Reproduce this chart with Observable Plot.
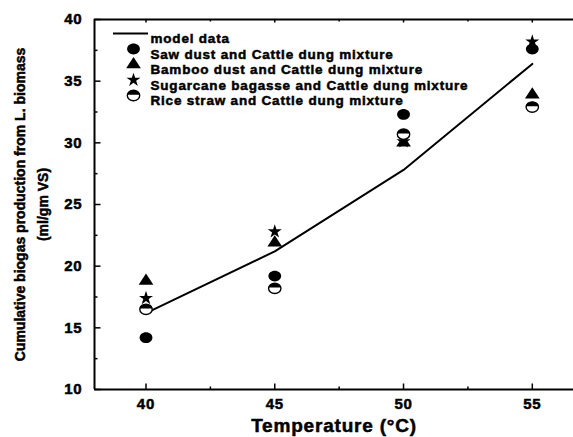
<!DOCTYPE html>
<html>
<head>
<meta charset="utf-8">
<script src="https://cdn.jsdelivr.net/npm/d3@7"></script>
<script src="https://cdn.jsdelivr.net/npm/@observablehq/plot@0.6"></script>
<style>
  body { margin: 0; background: #fff; }
  svg { display: block; }
  /* heavy, slightly wide lettering */
  #chart svg text { letter-spacing: 0.8px; stroke: black; stroke-width: 0.5px; paint-order: stroke; }
</style>
</head>
<body>
<div id="chart"></div>
<script>
// Cumulative biogas production (ml/gm VS) by digestion temperature
const temperatures = [40, 45, 50, 55];
const modelData = [16.2, 21.2, 27.8, 36.4];
const sawDust = [14.2, 19.2, 32.3, 37.6];
const bambooDust = [18.8, 21.9, 30.0, 33.9];
const sugarcaneBagasse = [17.4, 22.8, 30.1, 38.2];
const riceStraw = [16.5, 18.2, 30.7, 32.9];

const seriesLabels = [
  "model data",
  "Saw dust and Cattle dung mixture",
  "Bamboo dust and Cattle dung mixture",
  "Sugarcane bagasse and Cattle dung mixture",
  "Rice straw and Cattle dung mixture"
];

const xMajorTicks = [40, 45, 50, 55];
const xMinorTicks = [42.5, 47.5, 52.5];
const yMajorTicks = [10, 15, 20, 25, 30, 35, 40];
const yMinorTicks = [12.5, 17.5, 22.5, 27.5, 32.5, 37.5];

const yTitle = "Cumulative biogas production from L. biomass";
const yUnits = "(ml/gm VS)";
const xTitle = "Temperature (°C)";

const pts = (ys) => temperatures.map((t, i) => ({t, v: ys[i]}));

// --- marker shapes ---
const K = 0.5523;
function ellipse(ctx, rx, ry) {
  ctx.moveTo(rx, 0);
  ctx.bezierCurveTo(rx, K * ry, K * rx, ry, 0, ry);
  ctx.bezierCurveTo(-K * rx, ry, -rx, K * ry, -rx, 0);
  ctx.bezierCurveTo(-rx, -K * ry, -K * rx, -ry, 0, -ry);
  ctx.bezierCurveTo(K * rx, -ry, rx, -K * ry, rx, 0);
  ctx.closePath();
}
const rOf = (size) => Math.sqrt(size / Math.PI);
const oval = {draw(ctx, size) { const r = rOf(size); ellipse(ctx, r, r * 0.84); }};
const upperHalf = {draw(ctx, size) {
  const r = rOf(size), ry = r * 0.84, g = 0.8;
  ctx.moveTo(r, -g);
  ctx.bezierCurveTo(r, -K * ry, K * r, -ry, 0, -ry);
  ctx.bezierCurveTo(-K * r, -ry, -r, -K * ry, -r, -g);
  ctx.closePath();
}};
const wideTriangle = {draw(ctx, size) {
  const r = rOf(size), h = r * 1.75, w = r * 1.15;
  ctx.moveTo(0, -2 * h / 3);
  ctx.lineTo(w, h / 3);
  ctx.lineTo(-w, h / 3);
  ctx.closePath();
}};
const legendLine = {draw(ctx, size) { const r = rOf(size); ctx.moveTo(-r, 0); ctx.lineTo(r, 0); }};
const tickUp = {draw(ctx, size) { const r = rOf(size); ctx.moveTo(0, 0); ctx.lineTo(0, -r); }};
const tickDown = {draw(ctx, size) { const r = rOf(size); ctx.moveTo(0, 0); ctx.lineTo(0, r); }};
const tickRight = {draw(ctx, size) { const r = rOf(size); ctx.moveTo(0, 0); ctx.lineTo(r, 0); }};

const seriesMarks = [
  (d, o) => Plot.dot(d, {...o, symbol: oval, r: 6.4, fill: "black"}),
  (d, o) => Plot.dot(d, {...o, symbol: wideTriangle, r: 6.4, fill: "black"}),
  (d, o) => Plot.dot(d, {...o, symbol: "star", r: 4.4, fill: "black"}),
  (d, o) => [
    Plot.dot(d, {...o, symbol: oval, r: 6.2, fill: "white", stroke: "black", strokeWidth: 1.4}),
    Plot.dot(d, {...o, symbol: upperHalf, r: 6.2, fill: "black"})
  ]
];

const pointOpts = {x: "t", y: "v"};

// legend rows inside the frame, top-left
const legendRowDy = [14, 29.5, 45, 60.5, 76];
const legendMarks = [];
legendMarks.push(Plot.dot([0], {frameAnchor: "top-left", dx: 36, dy: legendRowDy[0], symbol: legendLine, r: 17.5, stroke: "black", strokeWidth: 2, fill: "none"}));
seriesMarks.forEach((mk, i) => legendMarks.push(mk([0], {frameAnchor: "top-left", dx: 39, dy: legendRowDy[i + 1]})));
seriesLabels.forEach((label, i) => legendMarks.push(
  Plot.text([label], {frameAnchor: "top-left", dx: 56, dy: legendRowDy[i], text: d => d, textAnchor: "start", fontSize: 13.5, fill: "black"})
));

const tickMark = (data, opts) => Plot.dot(data, {...opts, fill: "none", stroke: "black", strokeWidth: 1.5});

const chart = Plot.plot({
  width: 573,
  height: 437,
  marginLeft: 94,
  marginRight: 0,
  marginTop: 19,
  marginBottom: 48,
  style: {fontFamily: "'Liberation Sans', Arial, sans-serif", fontWeight: "bold", color: "black", background: "white"},
  x: {domain: [38, 56.6]},
  y: {domain: [10, 40]},
  marks: [
    // frame
    Plot.ruleY([10, 40], {stroke: "black", strokeWidth: 2}),
    Plot.ruleX([38], {stroke: "black", strokeWidth: 2}),
    // inward ticks
    tickMark(xMajorTicks, {x: d => d, y: () => 10, symbol: tickUp, r: 6}),
    tickMark(xMinorTicks, {x: d => d, y: () => 10, symbol: tickUp, r: 3}),
    tickMark(xMajorTicks, {x: d => d, y: () => 40, symbol: tickDown, r: 3}),
    tickMark(xMinorTicks, {x: d => d, y: () => 40, symbol: tickDown, r: 2}),
    tickMark(yMajorTicks, {x: () => 38, y: d => d, symbol: tickRight, r: 6}),
    tickMark(yMinorTicks, {x: () => 38, y: d => d, symbol: tickRight, r: 3}),
    // tick labels
    Plot.axisX({ticks: xMajorTicks, tickSize: 0, tickPadding: 9, fontSize: 15, label: null}),
    Plot.axisY({ticks: yMajorTicks, tickSize: 0, tickPadding: 12, fontSize: 15, label: null}),
    // axis titles
    Plot.text([xTitle], {frameAnchor: "bottom", dy: 42, text: d => d, fontSize: 19, fill: "black"}),
    Plot.text([yTitle], {frameAnchor: "left", dx: -74, text: d => d, textAnchor: "middle", rotate: -90, fontSize: 14, fill: "black"}),
    Plot.text([yUnits], {frameAnchor: "left", dx: -51, text: d => d, textAnchor: "middle", rotate: -90, fontSize: 14, fill: "black"}),
    // model curve
    Plot.line(pts(modelData), {x: "t", y: "v", stroke: "black", strokeWidth: 2}),
    // measured points
    seriesMarks[0](pts(sawDust), pointOpts),
    seriesMarks[2](pts(sugarcaneBagasse), pointOpts),
    seriesMarks[1](pts(bambooDust), pointOpts),
    seriesMarks[3](pts(riceStraw), pointOpts),
    ...legendMarks
  ]
});

// the vertical axis title keeps normal letter spacing
const verticalTitles = new Set([yTitle, yUnits]);
d3.select(chart).selectAll("text")
  .filter(function () { return verticalTitles.has(this.textContent); })
  .style("letter-spacing", "0px");

document.getElementById("chart").append(chart);
</script>
</body>
</html>
